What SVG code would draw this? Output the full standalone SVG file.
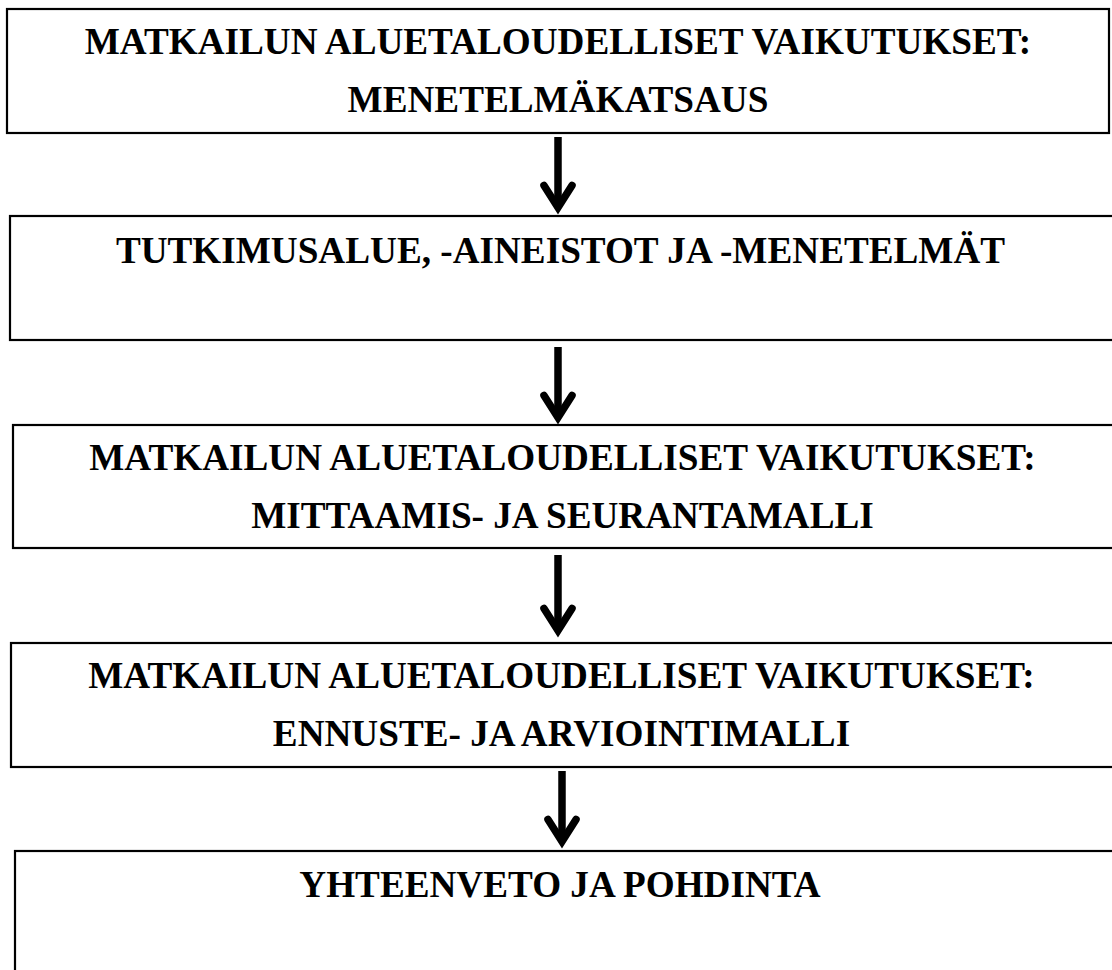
<svg xmlns="http://www.w3.org/2000/svg" width="1112" height="970" viewBox="0 0 1112 970">
<style>
.box{fill:#fff;stroke:#000;stroke-width:2.2}
.t{font-family:"Liberation Serif","Times New Roman",serif;font-weight:bold;font-size:37.2px;fill:#000;text-anchor:middle}
.stem{fill:none;stroke:#000;stroke-width:7.5;stroke-linecap:butt}
.head{fill:none;stroke:#000;stroke-width:7.5;stroke-linecap:round;stroke-linejoin:miter;stroke-miterlimit:10}
</style>
<rect width="1112" height="970" fill="#fff"/>
<g id="node1">
<rect class="box" x="7" y="9" width="1102" height="124"/>
<text class="t" x="558" y="54">MATKAILUN ALUETALOUDELLISET VAIKUTUKSET:</text>
<text class="t" x="558" y="112">MENETELMÄKATSAUS</text>
</g>
<g id="node2">
<rect class="box" x="10" y="216" width="1110" height="124"/>
<text class="t" x="560.5" y="263">TUTKIMUSALUE, -AINEISTOT JA -MENETELMÄT</text>
</g>
<g id="node3">
<rect class="box" x="13" y="425" width="1110" height="123"/>
<text class="t" x="562.5" y="470">MATKAILUN ALUETALOUDELLISET VAIKUTUKSET:</text>
<text class="t" x="562.5" y="528">MITTAAMIS- JA SEURANTAMALLI</text>
</g>
<g id="node4">
<rect class="box" x="11" y="643" width="1110" height="124"/>
<text class="t" x="561.5" y="688">MATKAILUN ALUETALOUDELLISET VAIKUTUKSET:</text>
<text class="t" x="561.5" y="746">ENNUSTE- JA ARVIOINTIMALLI</text>
</g>
<g id="node5">
<rect class="box" x="15" y="851" width="1110" height="130"/>
<text class="t" x="560" y="897">YHTEENVETO JA POHDINTA</text>
</g>
<g id="connectors">
<path class="stem" d="M558 137V206"/>
<path class="head" d="M544 185.5L558 207.5L572 185.5"/>
<path class="stem" d="M558 347V416"/>
<path class="head" d="M544 395.5L558 417.5L572 395.5"/>
<path class="stem" d="M558 555V629"/>
<path class="head" d="M544 608.5L558 630.5L572 608.5"/>
<path class="stem" d="M562 771V840"/>
<path class="head" d="M548 819.5L562 841.5L576 819.5"/>
</g>
</svg>
